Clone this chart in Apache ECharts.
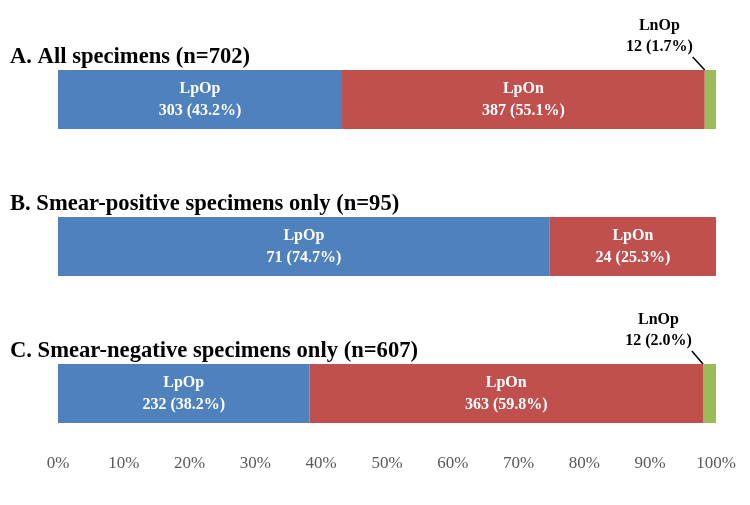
<!DOCTYPE html>
<html>
<head>
<meta charset="utf-8">
<script src="https://cdn.jsdelivr.net/npm/echarts@6/dist/echarts.min.js"></script>
<style>
  html, body { margin: 0; padding: 0; background: #fff; }
  #chart { width: 750px; height: 505px; }
</style>
</head>
<body>
<div id="chart"></div>
<script>
// groups (top to bottom) and counts per result
var groups = ['A. All specimens (n=702)', 'B. Smear-positive specimens only (n=95)', 'C. Smear-negative specimens only (n=607)'];
var totals = [702, 95, 607];
var lpop = [303, 71, 232];
var lpon = [387, 24, 363];
var lnop = [12, 0, 12];
var tickLabels = ['0%', '10%', '20%', '30%', '40%', '50%', '60%', '70%', '80%', '90%', '100%'];

var serif = '"Liberation Serif", "Times New Roman", serif';
var colors = ['#4F81BD', '#C0504D', '#9BBB59'];

function pct(n, i) {
    return n / totals[i] * 100;
}

function makeData(counts) {
    return counts.map(function (n, i) {
        var item = { value: pct(n, i), count: n };
        if (n === 0) {
            item.label = { show: false };
            item.labelLine = { show: false };
        }
        return item;
    });
}

function labelText(p) {
    return p.seriesName + '\n' + p.data.count + ' (' + p.value.toFixed(1) + '%)';
}

var chart = echarts.init(document.getElementById('chart'));

var insideLabel = {
    show: true,
    position: 'inside',
    color: '#fff',
    fontFamily: serif,
    fontWeight: 'bold',
    fontSize: 16,
    lineHeight: 22,
    formatter: labelText
};

chart.setOption({
    animation: false,
    backgroundColor: '#fff',
    grid: { left: 58, right: 34, top: 26, height: 441 },
    xAxis: {
        type: 'value',
        min: 0,
        max: 100,
        interval: 10,
        offset: -20,
        axisLine: { show: false },
        axisTick: { show: false },
        splitLine: { show: false },
        axisLabel: {
            margin: 8,
            color: '#595959',
            fontFamily: serif,
            fontSize: 17,
            formatter: function (v) { return tickLabels[Math.round(v / 10)]; }
        }
    },
    yAxis: {
        type: 'category',
        inverse: true,
        data: groups,
        axisLine: { show: false },
        axisTick: { show: false },
        axisLabel: {
            align: 'left',
            verticalAlign: 'bottom',
            lineHeight: 85,
            margin: 48,
            width: 700,
            overflow: 'none',
            color: '#000',
            fontFamily: serif,
            fontWeight: 'bold',
            fontSize: 22.6
        }
    },
    series: [
        {
            name: 'LpOp', type: 'bar', stack: 'all', barWidth: 59,
            itemStyle: { color: colors[0] },
            label: insideLabel,
            data: makeData(lpop)
        },
        {
            name: 'LpOn', type: 'bar', stack: 'all', barWidth: 59,
            itemStyle: { color: colors[1] },
            label: insideLabel,
            data: makeData(lpon)
        },
        {
            name: 'LnOp', type: 'bar', stack: 'all', barWidth: 59,
            itemStyle: { color: colors[2] },
            label: {
                show: true,
                position: 'top',
                color: '#000',
                fontFamily: serif,
                fontWeight: 'bold',
                fontSize: 16,
                lineHeight: 21,
                // bottom padding keeps the guide line anchored at the text's lower edge
                padding: [0, 0, 42, 0],
                formatter: labelText
            },
            labelLayout: function (p) {
                var r = p.rect;
                return {
                    x: r.x + r.width / 2 - 51,
                    y: r.y - 13 + 42,
                    align: 'center',
                    verticalAlign: 'bottom'
                };
            },
            labelLine: { show: true, lineStyle: { color: '#000', width: 1.5 } },
            data: makeData(lnop)
        }
    ]
});
</script>
</body>
</html>
